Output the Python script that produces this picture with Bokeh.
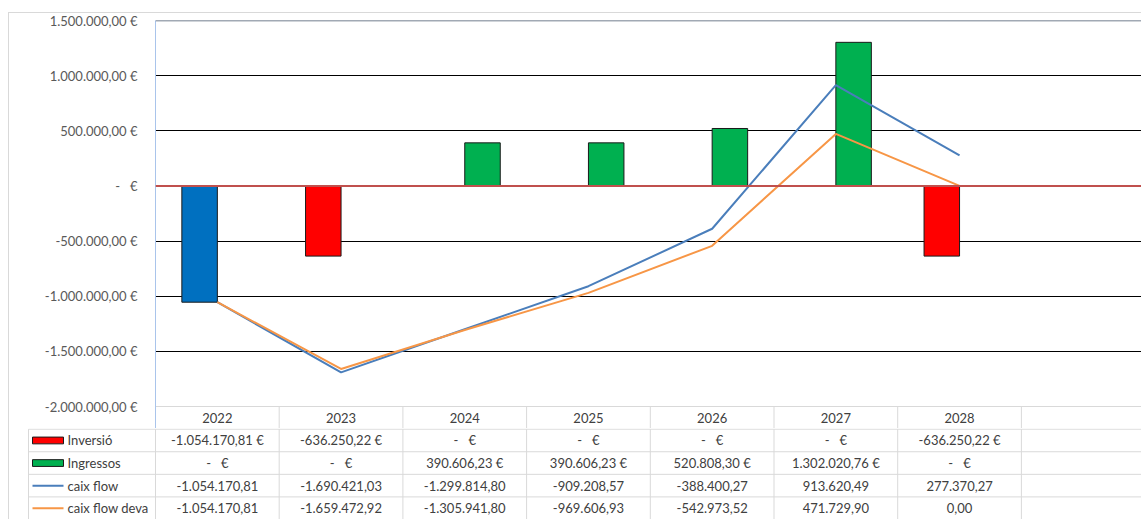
from bokeh.plotting import figure
from bokeh.layouts import column
from bokeh.models import Range1d, FixedTicker, Span, ColumnDataSource
from bokeh.transform import dodge
from bokeh.core.properties import value
from bokeh.embed import file_html
from bokeh.resources import INLINE

# ---------------- data ----------------
years = ["2022", "2023", "2024", "2025", "2026", "2027", "2028"]
inversio = [-1054170.81, -636250.22, 0, 0, 0, 0, -636250.22]
ingressos = [0, 0, 390606.23, 390606.23, 520808.30, 1302020.76, 0]
caix_flow = [-1054170.81, -1690421.03, -1299814.80, -909208.57, -388400.27, 913620.49, 277370.27]
caix_flow_deva = [-1054170.81, -1659472.92, -1305941.80, -969606.93, -542973.52, 471729.90, 0.00]
series_names = ["Inversió", "Ingressos", "caix flow", "caix flow deva"]
y_ticks = [-2000000, -1500000, -1000000, -500000, 0, 500000, 1000000, 1500000]
grid_ticks = [-1500000, -1000000, -500000, 500000, 1000000]
inv_colors = ["#0070C0", "#FF0000", "#FF0000", "#FF0000", "#FF0000", "#FF0000", "#FF0000"]

# ---------------- styling / layout ----------------
FONT = value("Lato")
FS = "13px"
W = 123.7              # pixels per category
FRAME_L = 155
TOTAL_W = 1141
N_CAT = 8
x_end = (TOTAL_W - FRAME_L) / W
BAR_W = 35.5 / W
RED = "#FF0000"
GREEN = "#00B050"
BLUE_LINE = "#4A7EBB"
ORANGE_LINE = "#F79646"
TBL_LINE = "#D9D9D9"
TXT = "#404040"
NBSP = "\u00a0"

Y_MIN, Y_MAX = -2000000, 1500000
PLOT_PX = 386                       # pixel height of the value area
HDR_PX = 22                         # header row of the data table
per_px = (Y_MAX - Y_MIN) / PLOT_PX
y_bottom = Y_MIN - HDR_PX * per_px
y_hdr = Y_MIN - HDR_PX * per_px / 2


def fmt_num(v):
    s = f"{abs(v):,.2f}".replace(",", "X").replace(".", ",").replace("X", ".")
    return ("-" if v < 0 else "") + s


def fmt_eur(v):
    if v == 0:
        return "-" + NBSP * 3 + "€"
    return fmt_num(v) + " €"


centers = [i + 0.5 for i in range(len(years))]

# ---------------- main chart ----------------
p1 = figure(width=TOTAL_W, height=20 + PLOT_PX + HDR_PX, x_range=Range1d(0, x_end),
            y_range=Range1d(y_bottom, Y_MAX), output_backend="svg",
            toolbar_location=None, min_border_left=FRAME_L, min_border_right=0,
            min_border_top=20, min_border_bottom=0, x_axis_location=None)
p1.outline_line_color = None
p1.background_fill_color = "white"
p1.border_fill_alpha = 0

p1.xgrid.visible = False
p1.ygrid.ticker = FixedTicker(ticks=grid_ticks)
p1.ygrid.grid_line_color = "black"
p1.ygrid.grid_line_width = 1

yax = p1.yaxis[0]
yax.ticker = FixedTicker(ticks=y_ticks)
yax.major_label_overrides = {t: fmt_eur(t) for t in y_ticks}
yax.major_tick_line_color = None
yax.major_tick_out = 0
yax.major_tick_in = 0
yax.minor_tick_line_color = None
yax.axis_line_color = "#A9C4EB"
yax.major_label_text_font = "Lato"
yax.major_label_text_font_size = FS
yax.major_label_text_color = "#595959"
yax.major_label_standoff = 18

# header row of the data table (years)
bx = list(range(1, N_CAT + 1))
p1.segment(x0=bx, y0=[Y_MIN] * len(bx), x1=bx, y1=[y_bottom] * len(bx),
           line_color=TBL_LINE, line_width=1)
p1.segment(x0=[0], y0=[Y_MIN], x1=[N_CAT], y1=[Y_MIN], line_color=TBL_LINE, line_width=1)
p1.text(x=centers, y=[y_hdr] * len(centers), text=years, text_font=FONT,
        text_font_size=FS, text_color=TXT, text_align="center", text_baseline="middle")

inv_src = ColumnDataSource(dict(
    x=[c for c, v in zip(centers, inversio) if v != 0],
    top=[v for v in inversio if v != 0],
    color=[col for col, v in zip(inv_colors, inversio) if v != 0]))
ing_src = ColumnDataSource(dict(
    x=[c for c, v in zip(centers, ingressos) if v != 0],
    top=[v for v in ingressos if v != 0]))

p1.vbar(x=dodge("x", -BAR_W / 2), top="top", bottom=0, width=BAR_W, source=inv_src,
        fill_color="color", line_color="#1a1a1a", line_width=1)
p1.vbar(x=dodge("x", BAR_W / 2), top="top", bottom=0, width=BAR_W, source=ing_src,
        fill_color=GREEN, line_color="#1a1a1a", line_width=1)

p1.line(centers, caix_flow, line_color=BLUE_LINE, line_width=2)
p1.line(centers, caix_flow_deva, line_color=ORANGE_LINE, line_width=2)

p1.add_layout(Span(location=0, dimension="width", line_color="#C0504D", line_width=2))
p1.add_layout(Span(location=Y_MAX, dimension="width", line_color="#44546A", line_width=1.5))

# ---------------- data table ----------------
p2 = figure(width=TOTAL_W, height=91, x_range=Range1d(-FRAME_L / W, x_end),
            y_range=Range1d(4, -0.03), output_backend="svg", toolbar_location=None,
            min_border=0, x_axis_location=None, y_axis_location=None)
p2.outline_line_color = None
p2.grid.visible = False
p2.background_fill_alpha = 0
p2.border_fill_alpha = 0

aligned_ok = True
try:
    p1.frame_align = False
    p2.frame_align = False
except Exception:
    aligned_ok = False

x_left = (28 - FRAME_L) / W
# horizontal lines
p2.segment(x0=[x_left] * 5, y0=[0, 1, 2, 3, 4], x1=[N_CAT] * 5, y1=[0, 1, 2, 3, 4],
           line_color=TBL_LINE, line_width=1)
# vertical lines
vx = [x_left] + list(range(N_CAT + 1))
p2.segment(x0=vx, y0=[0] * len(vx), x1=vx, y1=[4] * len(vx), line_color=TBL_LINE, line_width=1)

rows_text = [
    [fmt_eur(v) for v in inversio],
    [fmt_eur(v) for v in ingressos],
    [fmt_num(v) for v in caix_flow],
    [fmt_num(v) for v in caix_flow_deva],
]
for r, texts in enumerate(rows_text):
    p2.text(x=centers, y=[r + 0.5] * len(centers), text=texts,
            text_font=FONT, text_font_size=FS, text_color=TXT,
            text_align="center", text_baseline="middle")

# legend column
sw_l = (32 - FRAME_L) / W
sw_r = (63 - FRAME_L) / W
p2.quad(left=[sw_l, sw_l], right=[sw_r, sw_r], top=[0.5 - 0.15, 1.5 - 0.15],
        bottom=[0.5 + 0.15, 1.5 + 0.15], fill_color=[RED, GREEN],
        line_color="#1a1a1a", line_width=1)
p2.segment(x0=[sw_l, sw_l], y0=[2.5, 3.5], x1=[sw_r, sw_r], y1=[2.5, 3.5],
           line_color=[BLUE_LINE, ORANGE_LINE], line_width=2)
p2.text(x=[(67 - FRAME_L) / W] * 4, y=[0.5, 1.5, 2.5, 3.5], text=series_names,
        text_font=FONT, text_font_size=FS, text_color=TXT,
        text_align="left", text_baseline="middle")

border_css = {
    "background-color": "white",
    "background-image": "linear-gradient(#D9D9D9, #D9D9D9), linear-gradient(#D9D9D9, #D9D9D9)",
    "background-size": "1px 2000px, 2000px 1px",
    "background-position": "8px 12px, 8px 12px",
    "background-repeat": "no-repeat",
}

if aligned_ok:
    layout = column(p1, p2, spacing=0, styles=border_css)
    html = file_html(layout, INLINE)
else:
    html = file_html([p1, p2], INLINE)
open("out.html", "w").write(html)
